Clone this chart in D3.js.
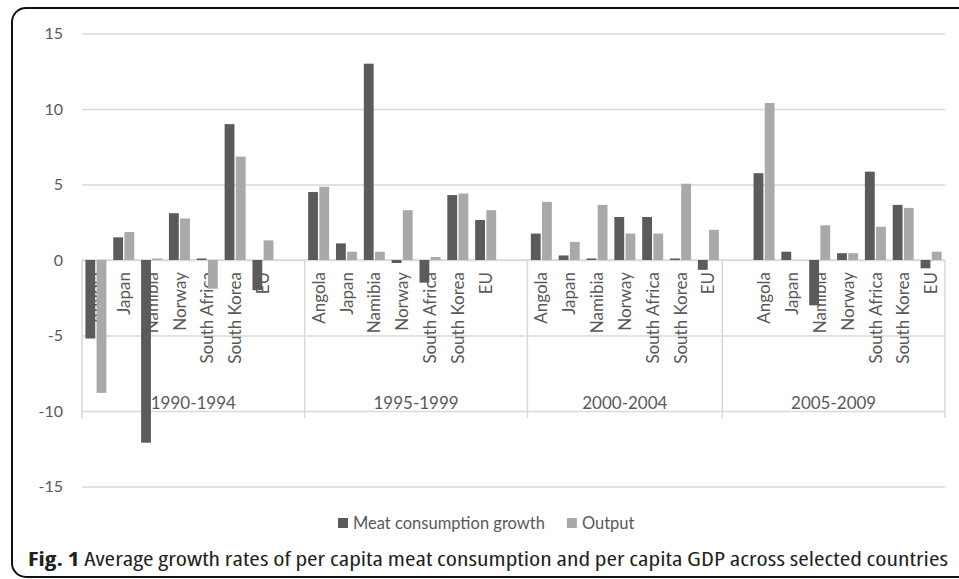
<!DOCTYPE html>
<html>
<head>
<meta charset="utf-8">
<script src="https://cdn.jsdelivr.net/npm/d3@7"></script>
<style>
  body { margin: 0; background: #fff; }
  svg { display: block; }
  text { font-family: Lato, "Open Sans", sans-serif; fill: #595959; }
</style>
</head>
<body>
<div id="chart"></div>
<script>
// periods and the category rows inside each one ("" = empty row in the source sheet)
const periods = ["1990-1994", "1995-1999", "2000-2004", "2005-2009"];
const countries = ["Angola", "Japan", "Namibia", "Norway", "South Africa", "South Korea", "EU"];
const periodRows = [
  ["Angola", "Japan", "Namibia", "Norway", "South Africa", "South Korea", "EU", ""],
  ["Angola", "Japan", "Namibia", "Norway", "South Africa", "South Korea", "EU", ""],
  ["Angola", "Japan", "Namibia", "Norway", "South Africa", "South Korea", "EU"],
  ["", "Angola", "Japan", "Namibia", "Norway", "South Africa", "South Korea", "EU"]
];

const seriesNames = ["Meat consumption growth", "Output"];

// values per period, in the order of `countries`
const meatGrowth = [
  [-5.2, 1.5, -12.1, 3.1, 0.1, 9.0, -2.0],
  [4.5, 1.1, 13.0, -0.2, -1.5, 4.3, 2.65],
  [1.75, 0.3, 0.1, 2.85, 2.85, 0.1, -0.65],
  [5.75, 0.55, -3.0, 0.45, 5.85, 3.65, -0.55]
];
const output = [
  [-8.8, 1.85, 0.1, 2.75, -1.9, 6.85, 1.3],
  [4.85, 0.55, 0.55, 3.3, 0.2, 4.4, 3.3],
  [3.85, 1.2, 3.65, 1.75, 1.75, 5.05, 2.0],
  [10.4, 0, 2.3, 0.45, 2.2, 3.45, 0.55]
];

const yTicks = [-15, -10, -5, 0, 5, 10, 15];
const caption = "Average growth rates of per capita meat consumption and per capita GDP across selected countries";

const colors = d3.scaleOrdinal().domain(seriesNames).range(["#5b5b5b", "#a9a9a9"]);

const width = 959, height = 579;
const margin = {top: 33.5, right: 14, bottom: 92.5, left: 82};
const innerW = width - margin.left - margin.right;
const innerH = height - margin.top - margin.bottom;

// flatten slots
const slots = [];
periodRows.forEach((rows, p) => {
  rows.forEach((c, i) => slots.push({key: p + "-" + i, period: p, country: c}));
});

const rows = [];
periods.forEach((per, p) => {
  countries.forEach((c, i) => {
    rows.push({period: p, country: c, series: seriesNames[0], value: meatGrowth[p][i]});
    rows.push({period: p, country: c, series: seriesNames[1], value: output[p][i]});
  });
});

const svg = d3.select("#chart").append("svg")
    .attr("width", width)
    .attr("height", height);

// frame around the figure
svg.append("rect")
    .attr("x", 12).attr("y", 8)
    .attr("width", 980).attr("height", 569)
    .attr("rx", 14)
    .attr("fill", "none")
    .attr("stroke", "#111")
    .attr("stroke-width", 2);

const chart = svg.append("g")
    .attr("transform", `translate(${margin.left},${margin.top})`);

const x = d3.scaleBand()
    .domain(slots.map(s => s.key))
    .range([0, innerW]);

const y = d3.scaleLinear()
    .domain([-15, 15])
    .range([innerH, 0]);

const xInner = d3.scaleBand()
    .domain(seriesNames)
    .range([x.bandwidth() / 2 - 10.5, x.bandwidth() / 2 + 10.5])
    .paddingInner(0.12);

// gridlines + y labels
const yAxis = d3.axisLeft(y)
    .tickValues(yTicks)
    .tickFormat(d => String(d))
    .tickSize(-innerW)
    .tickPadding(19);
const yAxisG = chart.append("g").attr("class", "y-axis").call(yAxis);
yAxisG.select(".domain").remove();
yAxisG.selectAll(".tick line").attr("stroke", "#d9d9d9").attr("stroke-width", 1.5);
yAxisG.selectAll(".tick text")
    .style("font-size", "16px")
    .attr("fill", "#595959");

// category axis line and period dividers
chart.append("line")
    .attr("x1", 0).attr("x2", innerW)
    .attr("y1", y(0)).attr("y2", y(0))
    .attr("stroke", "#d9d9d9").attr("stroke-width", 1.5);

const periodStart = periodRows.map((r, p) => x(p + "-0"));
const periodEnd = periodRows.map((r, p) => x(p + "-" + (r.length - 1)) + x.bandwidth());
const divX = periodStart.concat([innerW]);
chart.selectAll(".divider")
    .data(divX)
    .join("line")
    .attr("class", "divider")
    .attr("x1", d => d).attr("x2", d => d)
    .attr("y1", y(0)).attr("y2", y(-10) + 7)
    .attr("stroke", "#d9d9d9").attr("stroke-width", 1.5);

// country labels (rotated), drawn before bars so bars cover them
const slotOf = (p, c) => slots.find(s => s.period === p && s.country === c).key;
chart.selectAll(".cat-label")
    .data(slots.filter(s => s.country !== ""))
    .join("text")
    .attr("class", "cat-label")
    .attr("transform", d => `translate(${x(d.key) + x.bandwidth() / 2},${y(0) + 12}) rotate(-90)`)
    .attr("text-anchor", "end")
    .attr("dy", "0.36em")
    .style("font-size", "17px")
    .text(d => d.country);

// period labels
chart.selectAll(".period-label")
    .data(periods)
    .join("text")
    .attr("class", "period-label")
    .attr("x", (d, p) => (periodStart[p] + periodEnd[p]) / 2)
    .attr("y", y(-10) - 2)
    .attr("text-anchor", "middle")
    .style("font-size", "17px")
    .text(d => d);

// bars
chart.selectAll(".bar")
    .data(rows)
    .join("rect")
    .attr("class", "bar")
    .attr("x", d => x(slotOf(d.period, d.country)) + xInner(d.series))
    .attr("width", xInner.bandwidth())
    .attr("y", d => y(Math.max(0, d.value)))
    .attr("height", d => Math.abs(y(d.value) - y(0)))
    .attr("fill", d => colors(d.series));

// legend: items laid out one after another
const legend = svg.append("g").attr("transform", `translate(338,523)`);
let lx = 0;
seriesNames.forEach(name => {
  legend.append("rect")
      .attr("x", lx).attr("y", -5)
      .attr("width", 10).attr("height", 10)
      .attr("fill", colors(name));
  const t = legend.append("text")
      .attr("x", lx + 15).attr("y", 0)
      .attr("dy", "0.35em")
      .style("font-size", "16.5px")
      .text(name);
  lx += 15 + t.node().getComputedTextLength() + 22;
});

// caption
const cap = svg.append("text")
    .attr("x", 28).attr("y", 566)
    .attr("textLength", 920)
    .attr("lengthAdjust", "spacingAndGlyphs")
    .style("font-family", "'Open Sans', sans-serif")
    .style("font-stretch", "condensed")
    .style("font-size", "20px")
    .style("fill", "#231f20");
cap.append("tspan").style("font-weight", "bold").text("Fig. 1");
cap.append("tspan").text(" " + caption);
</script>
</body>
</html>
